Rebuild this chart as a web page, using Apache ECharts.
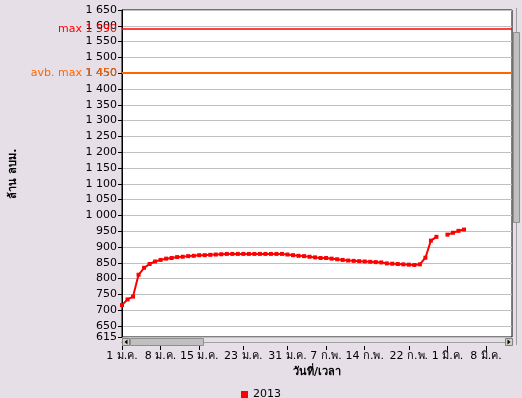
<!DOCTYPE html>
<html>
<head>
<meta charset="utf-8">
<script src="https://cdn.jsdelivr.net/npm/echarts@6/dist/echarts.min.js"></script>
<style>
html,body{margin:0;padding:0;background:#E7DFE7;}
#c{width:522px;height:398px;}
</style>
</head>
<body>
<div id="c"></div>
<script>
// Day index (0 = 1 Jan 2013)
const days = [0,1,2,3,4,5,6,7,8,9,10,11,12,13,14,15,16,17,18,19,20,21,22,23,24,25,26,27,28,29,30,31,32,33,34,35,36,37,38,39,40,41,42,43,44,45,46,47,48,49,50,51,52,53,54,55,56,57,58,59,60,61,62];
const values2013 = [716,734,743,812,834,846,854,859,863,865,868,869,871,872,874,874,875,876,877,878,878,878,878,878,878,878,878,878,878,878,876,874,872,871,869,867,865,865,863,861,859,857,856,855,854,853,852,851,848,847,846,845,844,843,845,866,920,932,null,939,945,951,955];
const xTickDays = [0,7,14,22,30,37,44,52,59,66];
const xTickLabels = ['1 ม.ค.','8 ม.ค.','15 ม.ค.','23 ม.ค.','31 ม.ค.','7 ก.พ.','14 ก.พ.','22 ก.พ.','1 มี.ค.','8 มี.ค.'];
const yTicks = [615,650,700,750,800,850,900,950,1000,1050,1100,1150,1200,1250,1300,1350,1400,1450,1500,1550,1600,1650];
const maxLevel = 1590;
const avgMaxLevel = 1450;
const seriesName = '2013';

const FONT = 'Tahoma, "DejaVu Sans", sans-serif';
function fmtNum(v){
  v = Math.round(v);
  if (v >= 1000) return Math.floor(v/1000) + ' ' + String(v % 1000).padStart(3,'0');
  return String(v);
}
const chart = echarts.init(document.getElementById('c'));
chart.setOption({
  backgroundColor: '#E7DFE7',
  animation: false,
  textStyle: {fontFamily: FONT},
  grid: {left:121, top:10, right:10, bottom:61, show:true, backgroundColor:'#FFFFFF', borderColor:'#000000', borderWidth:1},
  xAxis: {
    type:'value', min:0, max:70.7, offset:9,
    name:'วันที่/เวลา', nameLocation:'middle', nameGap:20,
    nameTextStyle:{fontFamily:FONT, fontSize:11, fontWeight:'bold', color:'#000'},
    axisLine:{show:false},
    axisTick:{show:true, length:4, lineStyle:{color:'#000'}, customValues:xTickDays},
    axisLabel:{customValues:xTickDays, margin:5, fontSize:11, color:'#000', fontFamily:FONT,
      formatter:function(v){ const i = xTickDays.indexOf(v); return i>=0 ? xTickLabels[i] : ''; }},
    splitLine:{show:false}
  },
  yAxis: {
    type:'value', min:615, max:1650,
    name:'ล้าน ลบม.', nameLocation:'middle', nameGap:103,
    nameTextStyle:{fontFamily:FONT, fontSize:11, fontWeight:'bold', color:'#000'},
    axisLine:{show:true, lineStyle:{color:'#000'}},
    axisTick:{show:true, length:4, lineStyle:{color:'#000'}, customValues:yTicks},
    axisLabel:{customValues:yTicks, margin:5, fontSize:11, color:'#000', fontFamily:FONT, formatter:fmtNum},
    splitLine:{show:true, lineStyle:{color:'#C0C0C0', width:1}}
  },
  legend: {
    data:[seriesName], top:384, left:'center', icon:'rect', itemWidth:7, itemHeight:7, itemGap:5,
    textStyle:{fontFamily:FONT, fontSize:11, color:'#000'}
  },
  series: [{
    name: seriesName, type:'line',
    data: days.map((d,i)=>[d, values2013[i] === null ? '-' : values2013[i]]),
    connectNulls:false,
    symbol:'rect', symbolSize:4, showAllSymbol:true,
    lineStyle:{color:'#FF0000', width:2},
    itemStyle:{color:'#FF0000'},
    markLine:{
      silent:true, symbol:'none',
      data:[
        {yAxis:maxLevel, lineStyle:{color:'#FF0000', width:1.5, type:'solid'},
         label:{show:true, position:'start', distance:5, formatter:'max ' + fmtNum(maxLevel), color:'#FF0000', fontSize:11, fontFamily:FONT}},
        {yAxis:avgMaxLevel, lineStyle:{color:'#FF6600', width:2, type:'solid'},
         label:{show:true, position:'start', distance:5, formatter:'avb. max ' + fmtNum(avgMaxLevel), color:'#FF6600', fontSize:11, fontFamily:FONT}}
      ]
    }
  }],
  graphic: [
    // horizontal scrollbar
    {type:'line', shape:{x1:121, y1:342.5, x2:512, y2:342.5}, style:{stroke:'#A0A0A0', lineWidth:1}},
    {type:'rect', shape:{x:122.5, y:338.5, width:7, height:7}, style:{fill:'#D4D0C8', stroke:'#808080', lineWidth:1}},
    {type:'polygon', shape:{points:[[124.5,342],[127.5,339.5],[127.5,344.5]]}, style:{fill:'#000'}},
    {type:'rect', shape:{x:130.5, y:338.5, width:73, height:7}, style:{fill:'#C0C0C0', stroke:'#909090', lineWidth:1}},
    {type:'rect', shape:{x:505.5, y:338.5, width:7, height:7}, style:{fill:'#D4D0C8', stroke:'#808080', lineWidth:1}},
    {type:'polygon', shape:{points:[[510.5,342],[507.5,339.5],[507.5,344.5]]}, style:{fill:'#000'}},
    // vertical scrollbar
    {type:'line', shape:{x1:516.5, y1:8, x2:516.5, y2:345}, style:{stroke:'#A0A0A0', lineWidth:1}},
    {type:'rect', shape:{x:513.5, y:32.5, width:6, height:190}, style:{fill:'#C0C0C0', stroke:'#909090', lineWidth:1}}
  ]
});
</script>
</body>
</html>
